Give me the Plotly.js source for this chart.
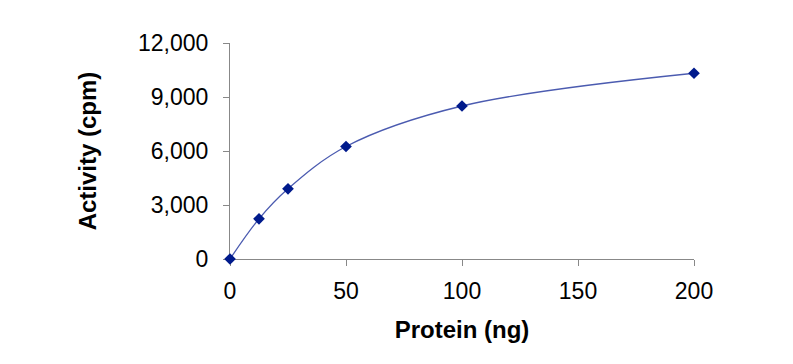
<!DOCTYPE html>
<html>
<head>
<meta charset="utf-8">
<script src="https://cdn.plot.ly/plotly-3.0.1.min.js"></script>
<style>html,body{margin:0;padding:0;background:#fff;}#chart{width:793px;height:364px;}</style>
</head>
<body>
<div id="chart"></div>
<script>
const protein = [0, 12.5, 25, 50, 100, 200];
const activity = [0, 2230, 3900, 6250, 8500, 10320];
const xTicks = [0, 50, 100, 150, 200];
const yTicks = [0, 3000, 6000, 9000, 12000];
const yTickText = ["0", "3,000", "6,000", "9,000", "12,000"];

const font = "Arial, 'Liberation Sans', sans-serif";
const trace = {
  x: protein, y: activity, type: "scatter", mode: "lines+markers",
  line: {shape: "spline", smoothing: 1, color: "#4b5bb0", width: 1.3},
  marker: {symbol: "diamond", size: 9, color: "#001a8c"},
  cliponaxis: false, showlegend: false
};
const layout = {
  width: 793, height: 364,
  margin: {l: 230, r: 99, t: 43, b: 105},
  paper_bgcolor: "#fff", plot_bgcolor: "#fff",
  font: {family: font, color: "#000"},
  xaxis: {
    range: [0, 200], tickvals: xTicks, ticktext: xTicks.map(String),
    showgrid: false, zeroline: false, showline: true, linecolor: "#888", linewidth: 1,
    ticks: "outside", ticklen: 6, tickcolor: "#888", ticklabelstandoff: 5,
    tickfont: {size: 23, family: font}, layer: "below traces",
    title: {text: "<b>Protein (ng)</b>", font: {size: 24, family: font}, standoff: 18}
  },
  yaxis: {
    range: [0, 12000], tickvals: yTicks, ticktext: yTickText,
    showgrid: false, zeroline: false, showline: true, linecolor: "#888", linewidth: 1,
    ticks: "outside", ticklen: 6, tickcolor: "#888", ticklabelstandoff: 10,
    tickfont: {size: 23, family: font}, layer: "below traces",
    title: {text: "<b>Activity (cpm)</b>", font: {size: 24, family: font}, standoff: 34}
  }
};
Plotly.newPlot("chart", [trace], layout, {displayModeBar: false, staticPlot: true});
</script>
</body>
</html>
